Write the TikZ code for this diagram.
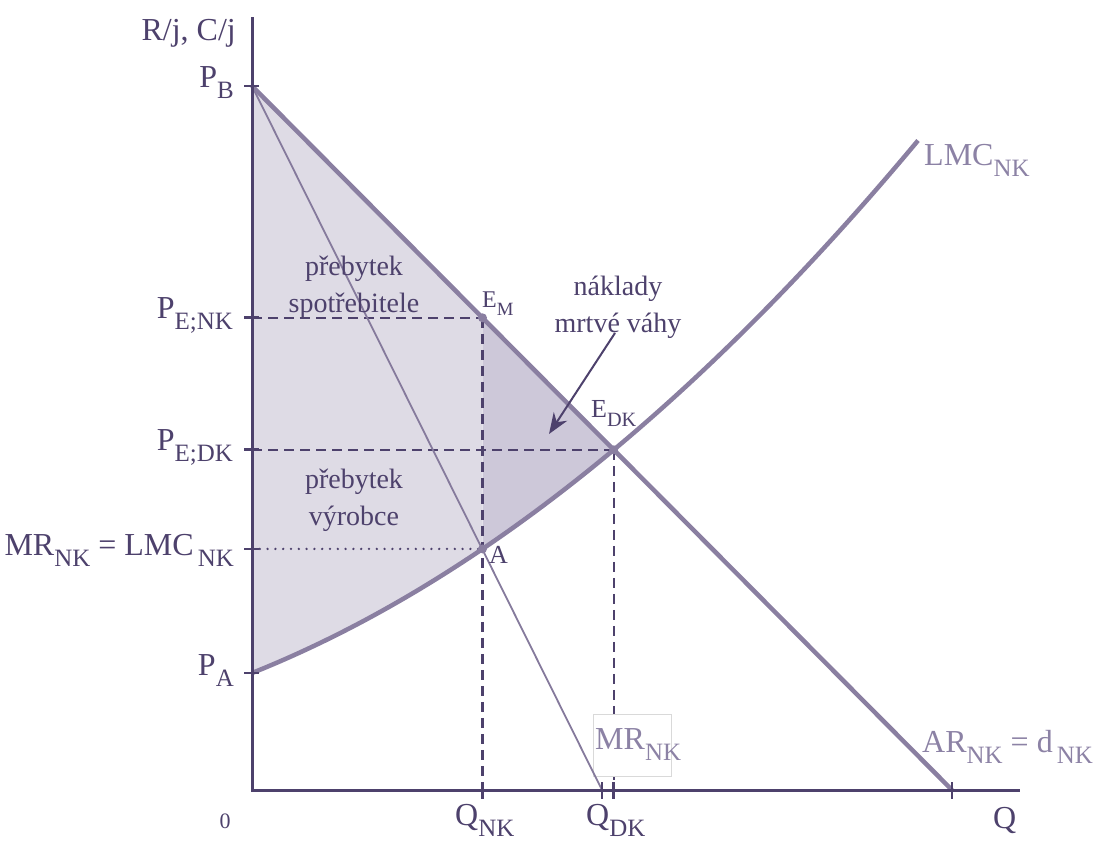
\documentclass[tikz,border=0pt]{standalone}
\usepackage{fontspec}
\setmainfont{Liberation Serif}
\usepackage{graphicx}
\usetikzlibrary{arrows.meta}
\definecolor{ink}{HTML}{4D416C}
\definecolor{curvecol}{HTML}{8A7FA1}
\definecolor{mrcol}{HTML}{857A9C}
\definecolor{fillA}{HTML}{DEDBE5}
\definecolor{fillB}{HTML}{CDC8D9}
\definecolor{labcol}{HTML}{8C82A5}
\definecolor{boxcol}{HTML}{D9D9D9}
\newcommand\sbs[1]{\raisebox{-0.35em}{\scalebox{0.78}{#1}}}
\begin{document}
\begin{tikzpicture}[x=1pt,y=-1pt,
  big/.style={font=\fontsize{32}{36}\selectfont, text=ink, inner sep=0pt},
  lab/.style={big, text=labcol},
  mid/.style={font=\fontsize{26}{30}\selectfont, text=ink, inner sep=0pt},
  area/.style={font=\fontsize{28}{37}\selectfont, text=ink, inner sep=0pt, align=center},
  axisln/.style={draw=ink, line width=3pt},
  tickln/.style={draw=ink, line width=2.8pt},
  curveln/.style={draw=curvecol, line width=4.5pt},
  mrln/.style={draw=mrcol, line width=1.8pt},
  dashln/.style={draw=ink, line width=2.2pt, dash pattern=on 10pt off 6pt},
  dotln/.style={draw=ink, line width=2.6pt, line cap=round, dash pattern=on 0pt off 7.8pt},
  ptdot/.style={circle, fill=curvecol, inner sep=0pt, minimum size=9pt}]
\useasboundingbox (0,0) rectangle (1094,844);
% coordinates
\coordinate (O) at (252,790);
\coordinate (YT) at (252,17);
\coordinate (XR) at (1020,790);
\coordinate (PB) at (252,86);
\coordinate (PA) at (252,673);
\coordinate (EM) at (482.5,317.8);
\coordinate (A) at (482.5,548.9);
\coordinate (EDK) at (613.7,449.8);
\coordinate (ARend) at (952,790);
\coordinate (MRend) at (602,790);
\coordinate (LMCend) at (918,140.5);
\coordinate (QNK) at (482.5,790);
\coordinate (QDK) at (613.7,790);
\coordinate (YNK) at (252,317.8);
\coordinate (YDK) at (252,449.8);
\coordinate (YMR) at (252,548.9);
% fills
\fill[fillA] (PB) -- (PA) -- plot[domain=0:2.305, samples=40] ({252+100*\x},{673-40*\x-6*\x*\x}) -- (EM) -- cycle;
\fill[fillB] (EM) -- (EDK) -- plot[domain=3.617:2.305, samples=40] ({252+100*\x},{673-40*\x-6*\x*\x}) -- cycle;
% guides
\draw[dashln] (YNK) -- (EM);
\draw[dashln] (EM) -- (QNK);
\draw[dashln] (YDK) -- (EDK);
\draw[dashln] (EDK) -- (QDK);
\draw[dotln] (YMR) -- (A);
% MR box
\node[draw=boxcol, line width=1pt, fill=white, minimum width=78pt, minimum height=62pt, inner sep=0pt] (mrbox) at (632,745) {};
% curves
\draw[mrln] (PB) -- (MRend);
\draw[curveln] (PB) -- (ARend);
\draw[curveln] (PA) .. controls (474,584.2) and (696,406.7) .. (LMCend);
% axes
\draw[axisln] (YT) -- (O) -- (XR);
% ticks
\foreach \c in {PB,YNK,YDK,YMR,PA}
  \draw[tickln] ([xshift=-8pt]\c) -- ([xshift=7pt]\c);
\foreach \c in {QNK,MRend,QDK,ARend}
  \draw[tickln] ([yshift=8pt]\c) -- ([yshift=-9pt]\c);
% points
\node[ptdot] (dEM) at (EM) {};
\node[ptdot] (dA) at (A) {};
\node[ptdot] (dEDK) at (EDK) {};
% axis labels
\node[big, anchor=base east] (ylab) at (236,40) {R/j, C/j};
\node[big, anchor=base east] (lpb) at (234,87) {P\sbs{B}};
\node[big, anchor=base east] (lpnk) at (233,318) {P\sbs{E;NK}};
\node[big, anchor=base east] (lpdk) at (233,450) {P\sbs{E;DK}};
\node[big, anchor=base east] (lmr) at (234,555) {MR\sbs{NK} = LMC\hspace{4pt}\sbs{NK}};
\node[big, anchor=base east] (lpa) at (234,675) {P\sbs{A}};
\node[big, anchor=base] (lo) at (225,828) {\fontsize{22}{24}\selectfont 0};
\node[big, anchor=base west] (lqnk) at (455,825) {Q\sbs{NK}};
\node[big, anchor=base west] (lqdk) at (586,825) {Q\sbs{DK}};
\node[big, anchor=base west] (lq) at (993,828) {Q};
% point labels
\node[mid, anchor=base west, font=\fontsize{24}{28}\selectfont] (lem) at (482,307) {E\sbs{M}};
\node[mid, anchor=base west] (ledk) at (591,417) {E\sbs{DK}};
\node[mid, anchor=base west] (la) at (489,563) {A};
% curve labels
\node[lab, anchor=base west] (llmc) at (924,165) {LMC\sbs{NK}};
\node[lab, anchor=base west] (lar) at (922,752) {AR\sbs{NK} = d\hspace{4pt}\sbs{NK}};
\node[lab, anchor=base west] (lmrnk) at (595,749) {MR\sbs{NK}};
% area labels
\node[area] (lspot) at (354,287) {přebytek\\spotřebitele};
\node[area] (lvyr) at (354,500) {přebytek\\výrobce};
\node[area] (lnakl) at (618,307) {náklady\\mrtvé váhy};
% arrow
\coordinate (arrS) at (615,333);
\coordinate (arrE) at (549,434);
\draw[draw=ink, fill=ink, line width=2pt, -{Stealth[length=21pt, width=16pt]}] (arrS) -- (arrE);
\end{tikzpicture}
\end{document}
